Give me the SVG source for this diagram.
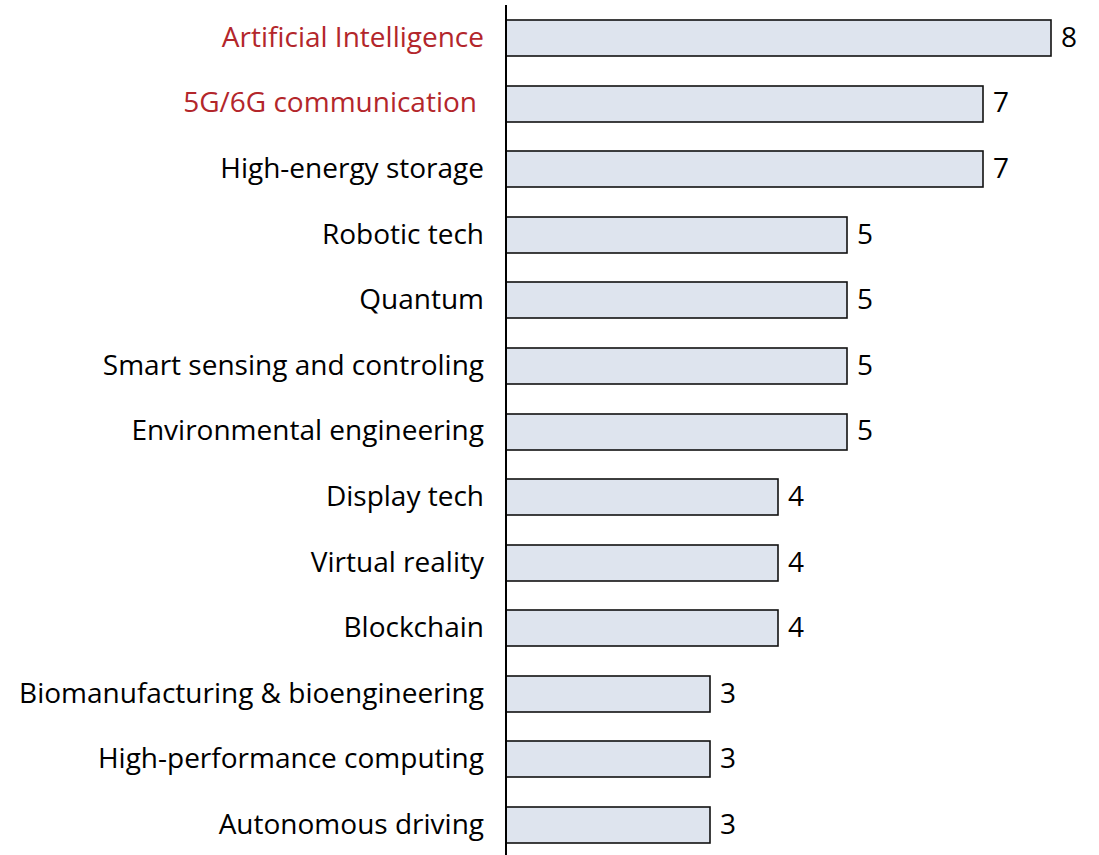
<svg xmlns="http://www.w3.org/2000/svg" width="1099" height="855" viewBox="0 0 1099 855">
<style>
.bar{fill:#dee4ee;stroke:#111;stroke-width:1.6}
.lbl{font-family:"Open Sans","Liberation Sans",Arial,sans-serif;font-size:28px;fill:#000;text-anchor:end}
.red{fill:#b3262b}
.val{font-family:"Open Sans","Liberation Sans",Arial,sans-serif;font-size:28px;fill:#000}
.axis{stroke:#000;stroke-width:2}
</style>
<rect width="1099" height="855" fill="#fff"/>
<g id="bars">
<g id="r1"><rect class="bar" x="506" y="20" width="545" height="36"/><text class="lbl red" x="484" y="47">Artificial Intelligence</text><text class="val" x="1061" y="47">8</text></g>
<g id="r2"><rect class="bar" x="506" y="86" width="477" height="36"/><text class="lbl red" x="477" y="112">5G/6G communication</text><text class="val" x="993" y="112">7</text></g>
<g id="r3"><rect class="bar" x="506" y="151" width="477" height="36"/><text class="lbl" x="484" y="178">High-energy storage</text><text class="val" x="993" y="178">7</text></g>
<g id="r4"><rect class="bar" x="506" y="217" width="341" height="36"/><text class="lbl" x="484" y="244">Robotic tech</text><text class="val" x="857" y="244">5</text></g>
<g id="r5"><rect class="bar" x="506" y="282" width="341" height="36"/><text class="lbl" x="484" y="309">Quantum</text><text class="val" x="857" y="309">5</text></g>
<g id="r6"><rect class="bar" x="506" y="348" width="341" height="36"/><text class="lbl" x="484" y="375">Smart sensing and controling</text><text class="val" x="857" y="375">5</text></g>
<g id="r7"><rect class="bar" x="506" y="414" width="341" height="36"/><text class="lbl" x="484" y="440">Environmental engineering</text><text class="val" x="857" y="440">5</text></g>
<g id="r8"><rect class="bar" x="506" y="479" width="272" height="36"/><text class="lbl" x="484" y="506">Display tech</text><text class="val" x="788" y="506">4</text></g>
<g id="r9"><rect class="bar" x="506" y="545" width="272" height="36"/><text class="lbl" x="484" y="572">Virtual reality</text><text class="val" x="788" y="572">4</text></g>
<g id="r10"><rect class="bar" x="506" y="610" width="272" height="36"/><text class="lbl" x="484" y="637">Blockchain</text><text class="val" x="788" y="637">4</text></g>
<g id="r11"><rect class="bar" x="506" y="676" width="204" height="36"/><text class="lbl" x="484" y="703">Biomanufacturing &amp; bioengineering</text><text class="val" x="720" y="703">3</text></g>
<g id="r12"><rect class="bar" x="506" y="741" width="204" height="36"/><text class="lbl" x="484" y="768">High-performance computing</text><text class="val" x="720" y="768">3</text></g>
<g id="r13"><rect class="bar" x="506" y="807" width="204" height="36"/><text class="lbl" x="484" y="834">Autonomous driving</text><text class="val" x="720" y="834">3</text></g>
</g>
<g id="connectors">
<line class="axis" x1="506" y1="5" x2="506" y2="855"/>
</g>
</svg>
